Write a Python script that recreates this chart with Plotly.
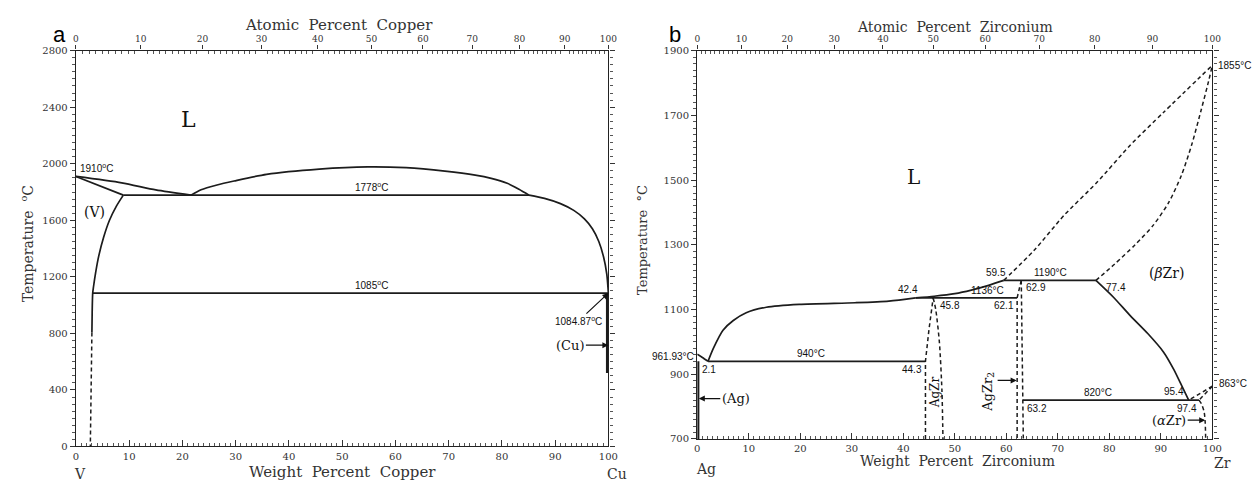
import plotly.graph_objects as go

W, H = 1258, 487

# ---------------- Panel a : V - Cu ----------------
M_V, M_CU = 50.94, 63.55
a_at_major = [0, 10, 20, 30, 40, 50, 60, 70, 80, 90, 100]
a_wt_major = [0, 10, 20, 30, 40, 50, 60, 70, 80, 90, 100]
a_temp_ticks = [0, 400, 800, 1200, 1600, 2000, 2400, 2800]

a_liq_left_x = [0, 8.6, 15.0, 21.6]
a_liq_left_t = [1910, 1865, 1815, 1778]
a_sol_x = [0, 8.9]
a_sol_t = [1910, 1778]
a_solvus_x = [8.9, 7.6, 6.3, 5.2, 4.3, 3.7, 3.3, 3.15, 3.05, 3.0]
a_solvus_t = [1778, 1700, 1600, 1480, 1350, 1230, 1130, 1085, 950, 807]
a_solvus_dash_x = [3.0, 2.7]
a_solvus_dash_t = [807, 0]
a_dome_x = [21.6, 23.5, 26.5, 29.7, 35.8, 45.7, 54.8, 62.0, 69.3, 75.0, 78.0, 81.0, 83.2, 85.1]
a_dome_t = [1778, 1816, 1850, 1878, 1925, 1962, 1978, 1972, 1948, 1920, 1897, 1862, 1820, 1778]
a_liq_right_x = [85.1, 88.0, 91.0, 93.5, 95.5, 97.0, 98.2, 99.1, 99.7, 100]
a_liq_right_t = [1778, 1755, 1718, 1670, 1610, 1540, 1450, 1340, 1220, 1085]
a_mono_x = [8.9, 85.1]
a_mono_t = [1778, 1778]
a_eut_x = [3.15, 100]
a_eut_t = [1085, 1085]
a_cu_x = [99.75, 99.75]
a_cu_t = [1085, 520]

# ---------------- Panel b : Ag - Zr ----------------
M_AG, M_ZR = 107.868, 91.224
b_at_major = [0, 10, 20, 30, 40, 50, 60, 70, 80, 90, 100]
b_wt_major = [0, 10, 20, 30, 40, 50, 60, 70, 80, 90, 100]
b_temp_ticks = [700, 900, 1100, 1300, 1500, 1700, 1900]

b_liq0_x = [0, 1.0, 2.1]
b_liq0_t = [961.93, 952, 940]
b_liq1_x = [2.1, 3.1, 5.0, 7.0, 9.5, 13.4, 19.8, 30.7, 37.2, 42.4]
b_liq1_t = [940, 979, 1036, 1066, 1090, 1107, 1116, 1121, 1126, 1136]
b_liq2_x = [42.4, 46.0, 50.0, 53.2, 56.4, 59.5]
b_liq2_t = [1136, 1141, 1149, 1160, 1174, 1190]
b_liq3_x = [59.5, 65.4, 71.2, 77.6, 84.0, 90.5, 100]
b_liq3_t = [1190, 1283, 1391, 1493, 1607, 1709, 1855]
b_sol_bzr_x = [77.4, 81.0, 85.0, 88.5, 91.5, 94.0, 96.0, 97.8, 99.1, 100]
b_sol_bzr_t = [1190, 1240, 1300, 1360, 1430, 1515, 1610, 1715, 1795, 1855]
b_solv_bzr_x = [77.4, 80.8, 84.0, 87.5, 90.5, 92.5, 94.3, 95.4]
b_solv_bzr_t = [1190, 1138, 1082, 1025, 969, 915, 856, 820]
b_eut_x = [2.1, 44.3]
b_eut_t = [940, 940]
b_per1_x = [42.4, 62.1]
b_per1_t = [1136, 1136]
b_per2_x = [59.5, 77.4]
b_per2_t = [1190, 1190]
b_eutd_x = [63.2, 97.4]
b_eutd_t = [820, 820]
b_agzr_l_x = [44.3, 44.3, 45.0, 45.8]
b_agzr_l_t = [700, 940, 1040, 1136]
b_agzr_r_x = [45.8, 46.3, 47.0, 47.5, 47.7]
b_agzr_r_t = [1136, 1100, 1000, 850, 700]
b_agzr2_l_x = [62.9, 62.1, 62.1]
b_agzr2_l_t = [1190, 1136, 700]
b_agzr2_r_x = [62.9, 63.2, 63.3]
b_agzr2_r_t = [1190, 820, 700]
b_ab1_x = [100, 95.4]
b_ab1_t = [863, 820]
b_ab2_x = [100, 97.4]
b_ab2_t = [863, 820]
b_azr_x = [97.4, 97.9, 98.4, 98.6, 98.7]
b_azr_t = [820, 808, 784, 753, 700]
b_ag_x = [0.2, 0.2]
b_ag_t = [940, 700]


def at_to_wt(at, m_sol, m_base):
    return 100.0 * at * m_sol / (at * m_sol + (100 - at) * m_base)


LC = "#1c1c1c"
SOLID = dict(color=LC, width=1.7)
DASH = dict(color=LC, width=1.5, dash="4px,3px")

fig = go.Figure()


def add(x, y, ax, line, spline=False):
    fig.add_trace(go.Scatter(
        x=x, y=y, mode="lines", xaxis=ax[0], yaxis=ax[1],
        line=dict(**line, shape="spline" if spline else "linear",
                  **({"smoothing": 0.7} if spline else {})),
        showlegend=False, hoverinfo="skip"))


A = ("x", "y")
B = ("x2", "y2")

add(a_liq_left_x, a_liq_left_t, A, SOLID, True)
add(a_sol_x, a_sol_t, A, SOLID)
add(a_solvus_x, a_solvus_t, A, SOLID, True)
add(a_solvus_dash_x, a_solvus_dash_t, A, DASH)
add(a_dome_x, a_dome_t, A, SOLID, True)
add(a_liq_right_x, a_liq_right_t, A, SOLID, True)
add(a_mono_x, a_mono_t, A, SOLID)
add(a_eut_x, a_eut_t, A, SOLID)
add(a_cu_x, a_cu_t, A, dict(color=LC, width=2.2))

add(b_liq0_x, b_liq0_t, B, SOLID, True)
add(b_liq1_x, b_liq1_t, B, SOLID, True)
add(b_liq2_x, b_liq2_t, B, SOLID, True)
add(b_liq3_x, b_liq3_t, B, DASH, True)
add(b_sol_bzr_x, b_sol_bzr_t, B, DASH, True)
add(b_solv_bzr_x, b_solv_bzr_t, B, SOLID, True)
add(b_eut_x, b_eut_t, B, SOLID)
add(b_per1_x, b_per1_t, B, SOLID)
add(b_per2_x, b_per2_t, B, SOLID)
add(b_eutd_x, b_eutd_t, B, SOLID)
add(b_agzr_l_x, b_agzr_l_t, B, DASH)
add(b_agzr_r_x, b_agzr_r_t, B, DASH, True)
add(b_agzr2_l_x, b_agzr2_l_t, B, DASH)
add(b_agzr2_r_x, b_agzr2_r_t, B, DASH)
add(b_ab1_x, b_ab1_t, B, DASH)
add(b_ab2_x, b_ab2_t, B, DASH)
add(b_azr_x, b_azr_t, B, DASH, True)
add(b_ag_x, b_ag_t, B, dict(color=LC, width=2.2))

# invisible traces so the top axes are drawn
for ax in (("x3", "y"), ("x4", "y2")):
    fig.add_trace(go.Scatter(x=[50], y=[1000], xaxis=ax[0], yaxis=ax[1], mode="markers",
                             marker=dict(opacity=0), showlegend=False, hoverinfo="skip"))

TICKFONT = dict(family="DejaVu Serif", size=10, color="#333")
TOPFONT = dict(family="DejaVu Serif", size=9, color="#333")


def bottom_axis(domain, anchor, vals):
    return dict(domain=domain, anchor=anchor, range=[0, 100], tickmode="array",
                tickvals=vals, ticktext=[str(v) for v in vals],
                ticks="inside", ticklen=6, tickwidth=1, tickcolor="#333",
                showline=True, linecolor="#222", linewidth=1.4, mirror=False,
                showgrid=False, zeroline=False, tickfont=TICKFONT,
                minor=dict(tickmode="linear", tick0=0, dtick=1, ticks="inside",
                           ticklen=3, tickcolor="#555", tickwidth=1, showgrid=False))


def top_axis(over, anchor, at_vals, m_sol, m_base):
    pos = [at_to_wt(v, m_sol, m_base) for v in at_vals]
    minors = [at_to_wt(v, m_sol, m_base) for v in range(1, 100) if v % 10]
    return dict(overlaying=over, anchor=anchor, side="top", range=[0, 100],
                tickmode="array", tickvals=pos, ticktext=[str(v) for v in at_vals],
                ticks="outside", ticklen=4, tickwidth=1, tickcolor="#333",
                showline=True, linecolor="#222", linewidth=1.4,
                showgrid=False, zeroline=False, tickfont=TOPFONT,
                minor=dict(tickmode="array", tickvals=minors, ticks="inside",
                           ticklen=3, tickcolor="#555", tickwidth=1, showgrid=False))


def y_axis(domain, anchor, rng, vals, mdt):
    return dict(domain=domain, anchor=anchor, range=rng, tickmode="array",
                tickvals=vals, ticktext=[str(v) for v in vals],
                ticks="outside", ticklen=5, tickwidth=1, tickcolor="#333",
                showline=True, linecolor="#222", linewidth=1.4, mirror="ticks",
                showgrid=False, zeroline=False, tickfont=TICKFONT,
                minor=dict(tickmode="linear", tick0=rng[0], dtick=mdt, ticks="outside",
                           ticklen=3, tickcolor="#555", tickwidth=1, showgrid=False))


xa_dom = [73.7 / W, 611.7 / W]
ya_dom = [(H - 451.7) / H, (H - 46.7) / H]
xb_dom = [701.5 / W, 1222.0 / W]
yb_dom = [(H - 444.0) / H, (H - 46.7) / H]

fig.update_layout(
    width=W, height=H, margin=dict(l=0, r=0, t=0, b=0),
    paper_bgcolor="white", plot_bgcolor="white", showlegend=False,
    xaxis=bottom_axis(xa_dom, "y", a_wt_major),
    yaxis=y_axis(ya_dom, "x", [0, 2800], a_temp_ticks, 50),
    xaxis2=bottom_axis(xb_dom, "y2", b_wt_major),
    yaxis2=y_axis(yb_dom, "x2", [700, 1900], b_temp_ticks, 20),
    xaxis3=top_axis("x", "y", a_at_major, M_CU, M_V),
    xaxis4=top_axis("x2", "y2", b_at_major, M_ZR, M_AG),
)

ann = []
SERIF = "DejaVu Serif"


def txt(x, y, t, xref, yref, size=10, family="Liberation Sans", xa="center", ya="middle",
        angle=0, xshift=0, yshift=0, color="#111"):
    ann.append(dict(x=x, y=y, xref=xref, yref=yref, text=t, showarrow=False,
                    xanchor=xa, yanchor=ya, textangle=angle, xshift=xshift, yshift=yshift,
                    font=dict(family=family, size=size, color=color)))


def arrow(x, y, axp, ayp, t, xref, yref, size=13, family=SERIF):
    ann.append(dict(x=x, y=y, xref=xref, yref=yref, text=t, showarrow=True,
                    ax=axp, ay=ayp, arrowhead=2, arrowsize=1, arrowwidth=1.2,
                    arrowcolor="#111", standoff=0,
                    font=dict(family=family, size=size, color="#111")))


def paper(px, py, t, size=14, family=SERIF, angle=0, xa="center", color="#333"):
    ann.append(dict(x=px / W, y=1 - py / H, xref="paper", yref="paper", text=t,
                    showarrow=False, xanchor=xa, yanchor="middle", textangle=angle,
                    font=dict(family=family, size=size, color=color)))


# panel a text
txt(21.2, 2314, "L", "x", "y", 22, SERIF)
txt(3.5, 1657, "(V)", "x", "y", 14, SERIF)
txt(0.4, 1910, "1910<sup>o</sup>C", "x", "y", 10, xa="left", ya="bottom")
txt(55.6, 1778, "1778<sup>o</sup>C", "x", "y", 10, ya="bottom")
txt(55.6, 1085, "1085<sup>o</sup>C", "x", "y", 10, ya="bottom")
arrow(100, 1085, -30, 28, "1084.87<sup>o</sup>C", "x", "y", 10, "Liberation Sans")
arrow(100, 717, -38, 0, "(Cu)", "x", "y", 13)

# panel b text
txt(42.0, 1509, "L", "x2", "y2", 20, SERIF)
txt(91.1, 1212, "(<i>β</i>Zr)", "x2", "y2", 14, SERIF)
txt(0, 955, "961.93°C", "x2", "y2", 10, xa="right", xshift=-1)
txt(2.3, 940, "2.1", "x2", "y2", 10, ya="top", yshift=-1)
txt(22.0, 940, "940°C", "x2", "y2", 10, ya="bottom")
txt(44.1, 940, "44.3", "x2", "y2", 10, xa="right", ya="top", yshift=-1)
txt(40.9, 1136, "42.4", "x2", "y2", 10, ya="bottom", yshift=1)
txt(46.8, 1136, "45.8", "x2", "y2", 10, xa="left", ya="top")
txt(56.4, 1136, "1136°C", "x2", "y2", 10, ya="bottom")
txt(61.9, 1136, "62.1", "x2", "y2", 10, xa="right", ya="top")
txt(58.0, 1190, "59.5", "x2", "y2", 10, ya="bottom")
txt(68.5, 1190, "1190°C", "x2", "y2", 10, ya="bottom")
txt(63.4, 1190, "62.9", "x2", "y2", 10, xa="left", ya="top")
txt(79.0, 1190, "77.4", "x2", "y2", 10, xa="left", ya="top")
txt(77.8, 820, "820°C", "x2", "y2", 10, ya="bottom")
txt(63.7, 820, "63.2", "x2", "y2", 10, xa="left", ya="top", yshift=-1)
txt(92.6, 820, "95.4", "x2", "y2", 10, ya="bottom", yshift=1)
txt(95.1, 820, "97.4", "x2", "y2", 10, ya="top", yshift=-1)
txt(100, 1855, "1855°C", "x2", "y2", 10, xa="left", xshift=4)
txt(100, 863, "863°C", "x2", "y2", 10, xa="left", xshift=5, yshift=3)
txt(46.2, 845, "AgZr", "x2", "y2", 12, SERIF, angle=-90)
txt(56.4, 845, "AgZr<sub>2</sub>", "x2", "y2", 13, SERIF, angle=-90)
arrow(0.3, 825, 37, 0, "(Ag)", "x2", "y2", 13)
arrow(98.6, 758, -36, 0, "(<i>α</i>Zr)", "x2", "y2", 13)
arrow(62.0, 881, -22, 0, " ", "x2", "y2", 10)

# axis titles and panel letters
paper(340, 20.7, "Atomic  Percent  Copper", 15)
paper(343, 478, "Weight  Percent  Copper", 15)
paper(25, 244, "Temperature  <sup>o</sup>C", 14, angle=-90)
paper(78, 480, "V", 14)
paper(620, 480, "Cu", 14)
paper(962, 22.7, "Atomic  Percent  Zirconium", 14)
paper(964, 467, "Weight  Percent  Zirconium", 14)
paper(646, 240, "Temperature  °C", 13, angle=-90)
paper(710, 475, "Ag", 14)
paper(1232, 469, "Zr", 14)
paper(57, 30, "a", 22, "Liberation Sans", color="#000")
paper(679, 30, "b", 22, "Liberation Sans", color="#000")

fig.update_layout(annotations=ann)
fig.write_html("out.html")
